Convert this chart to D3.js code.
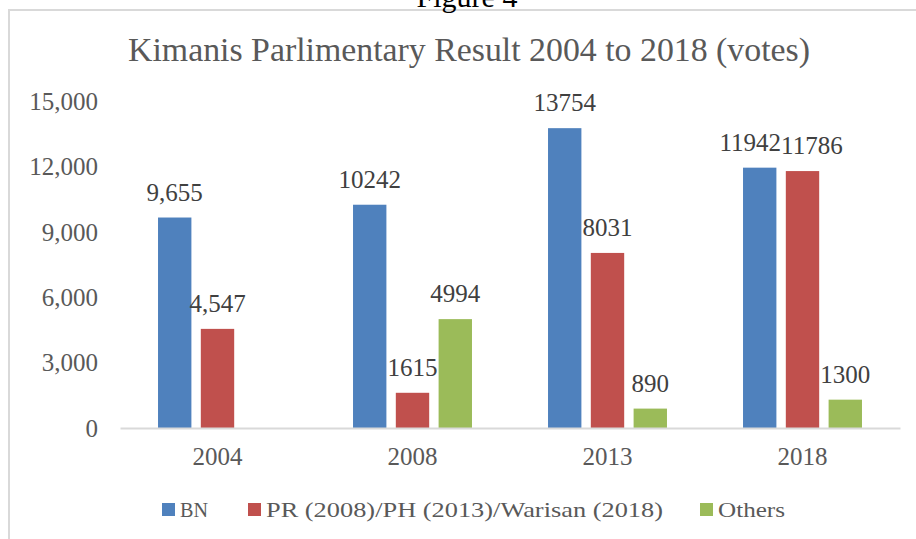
<!DOCTYPE html>
<html><head><meta charset="utf-8">
<script src="https://cdn.jsdelivr.net/npm/d3@7"></script>
<style>body{margin:0;background:#fff}svg{display:block}</style>
</head><body>
<script>
const categories = ["2004","2008","2013","2018"];
const seriesNames = ["BN","PR (2008)/PH (2013)/Warisan (2018)","Others"];
const bnValues = [9655,10242,13754,11942];
const prValues = [4547,1615,8031,11786];
const othersValues = [0,4994,890,1300];
const bnLabels = ["9,655","10242","13754","11942"];
const prLabels = ["4,547","1615","8031","11786"];
const othersLabels = ["","4994","890","1300"];
const yTicks = [0,3000,6000,9000,12000,15000];
const colors = ["#4F81BD","#C0504D","#9BBB59"];

const W=916,H=539;
const svg=d3.select("body").append("svg").attr("width",W).attr("height",H);
const font="'Liberation Serif', serif";
const txt="#595959";

// chart frame
svg.append("path").attr("d",`M9,${H} V10 H${W}`).attr("fill","none").attr("stroke","#d9d9d9").attr("stroke-width",2);
// cropped figure caption
svg.append("text").attr("x",467).attr("y",7).attr("text-anchor","middle").attr("font-family",font).attr("font-size",30).attr("fill","#000").text("Figure 4");

svg.append("text").attr("x",128).attr("y",61).attr("font-family",font).attr("font-size",33)
  .attr("textLength",682).attr("lengthAdjust","spacingAndGlyphs")
  .attr("fill",txt).text("Kimanis Parlimentary Result 2004 to 2018 (votes)");

const y=d3.scaleLinear().domain([0,15000]).range([428,101]);
const x0=d3.scaleBand().domain(categories).range([120,900]).paddingInner(0.39).paddingOuter(0.195);
const x1=d3.scaleBand().domain([0,1,2]).range([0,x0.bandwidth()]).paddingInner(0.22);

// y axis
const ya=svg.append("g").attr("transform","translate(98,0)").call(d3.axisLeft(y).tickValues(yTicks).tickFormat(d3.format(",")).tickSize(0));
ya.select(".domain").remove();
ya.selectAll("text").attr("font-family",font).attr("font-size",25).attr("fill",txt).attr("x",0).attr("dy","0.33em");

const series=[bnValues,prValues,othersValues];
const labels=[bnLabels,prLabels,othersLabels];
const labelNodes=categories.map(()=>[]);
series.forEach((vals,si)=>{
  const g=svg.append("g");
  g.selectAll("rect").data(vals).join("rect")
    .attr("x",(d,i)=>x0(categories[i])+x1(si))
    .attr("y",d=>y(d)).attr("width",x1.bandwidth()).attr("height",d=>y(0)-y(d))
    .attr("fill",colors[si]);
  g.selectAll("text").data(vals).join("text")
    .attr("x",(d,i)=>x0(categories[i])+x1(si)+x1.bandwidth()/2)
    .attr("y",d=>y(d)-17).attr("text-anchor","middle")
    .attr("font-family",font).attr("font-size",25).attr("fill","#404040")
    .text((d,i)=>labels[si][i])
    .each(function(d,i){labelNodes[i][si]=this;});
});
// spread apart labels that collide (same height row)
labelNodes.forEach(nodes=>{
  for(let k=0;k<nodes.length-1;k++){
    const a=nodes[k], b=nodes[k+1];
    const ay=+a.getAttribute("y"), by=+b.getAttribute("y");
    if(Math.abs(ay-by)>20) continue;
    const ax=+a.getAttribute("x"), bx=+b.getAttribute("x");
    const need=(a.getComputedTextLength()+b.getComputedTextLength())/2;
    const overlap=need-(bx-ax);
    if(overlap>0){
      a.setAttribute("x",ax-overlap/2);
      b.setAttribute("x",bx+overlap/2);
    }
  }
});

// x axis
const xa=svg.append("g").attr("transform","translate(0,428)").call(d3.axisBottom(x0).tickSize(0));
xa.select(".domain").attr("stroke","#d9d9d9").attr("stroke-width",2);
xa.selectAll("text").attr("font-family",font).attr("font-size",25).attr("fill",txt).attr("y",37).attr("dy",0);

// legend
const leg=[{x:162,w:28},{x:248,w:397},{x:700,w:67}];
seriesNames.forEach((n,i)=>{
  svg.append("rect").attr("x",leg[i].x).attr("y",503).attr("width",13).attr("height",13).attr("fill",colors[i]);
  svg.append("text").attr("x",leg[i].x+18).attr("y",517).attr("font-family",font).attr("font-size",22)
    .attr("textLength",leg[i].w).attr("lengthAdjust","spacingAndGlyphs")
    .attr("fill",txt).text(n);
});
</script>
</body></html>
